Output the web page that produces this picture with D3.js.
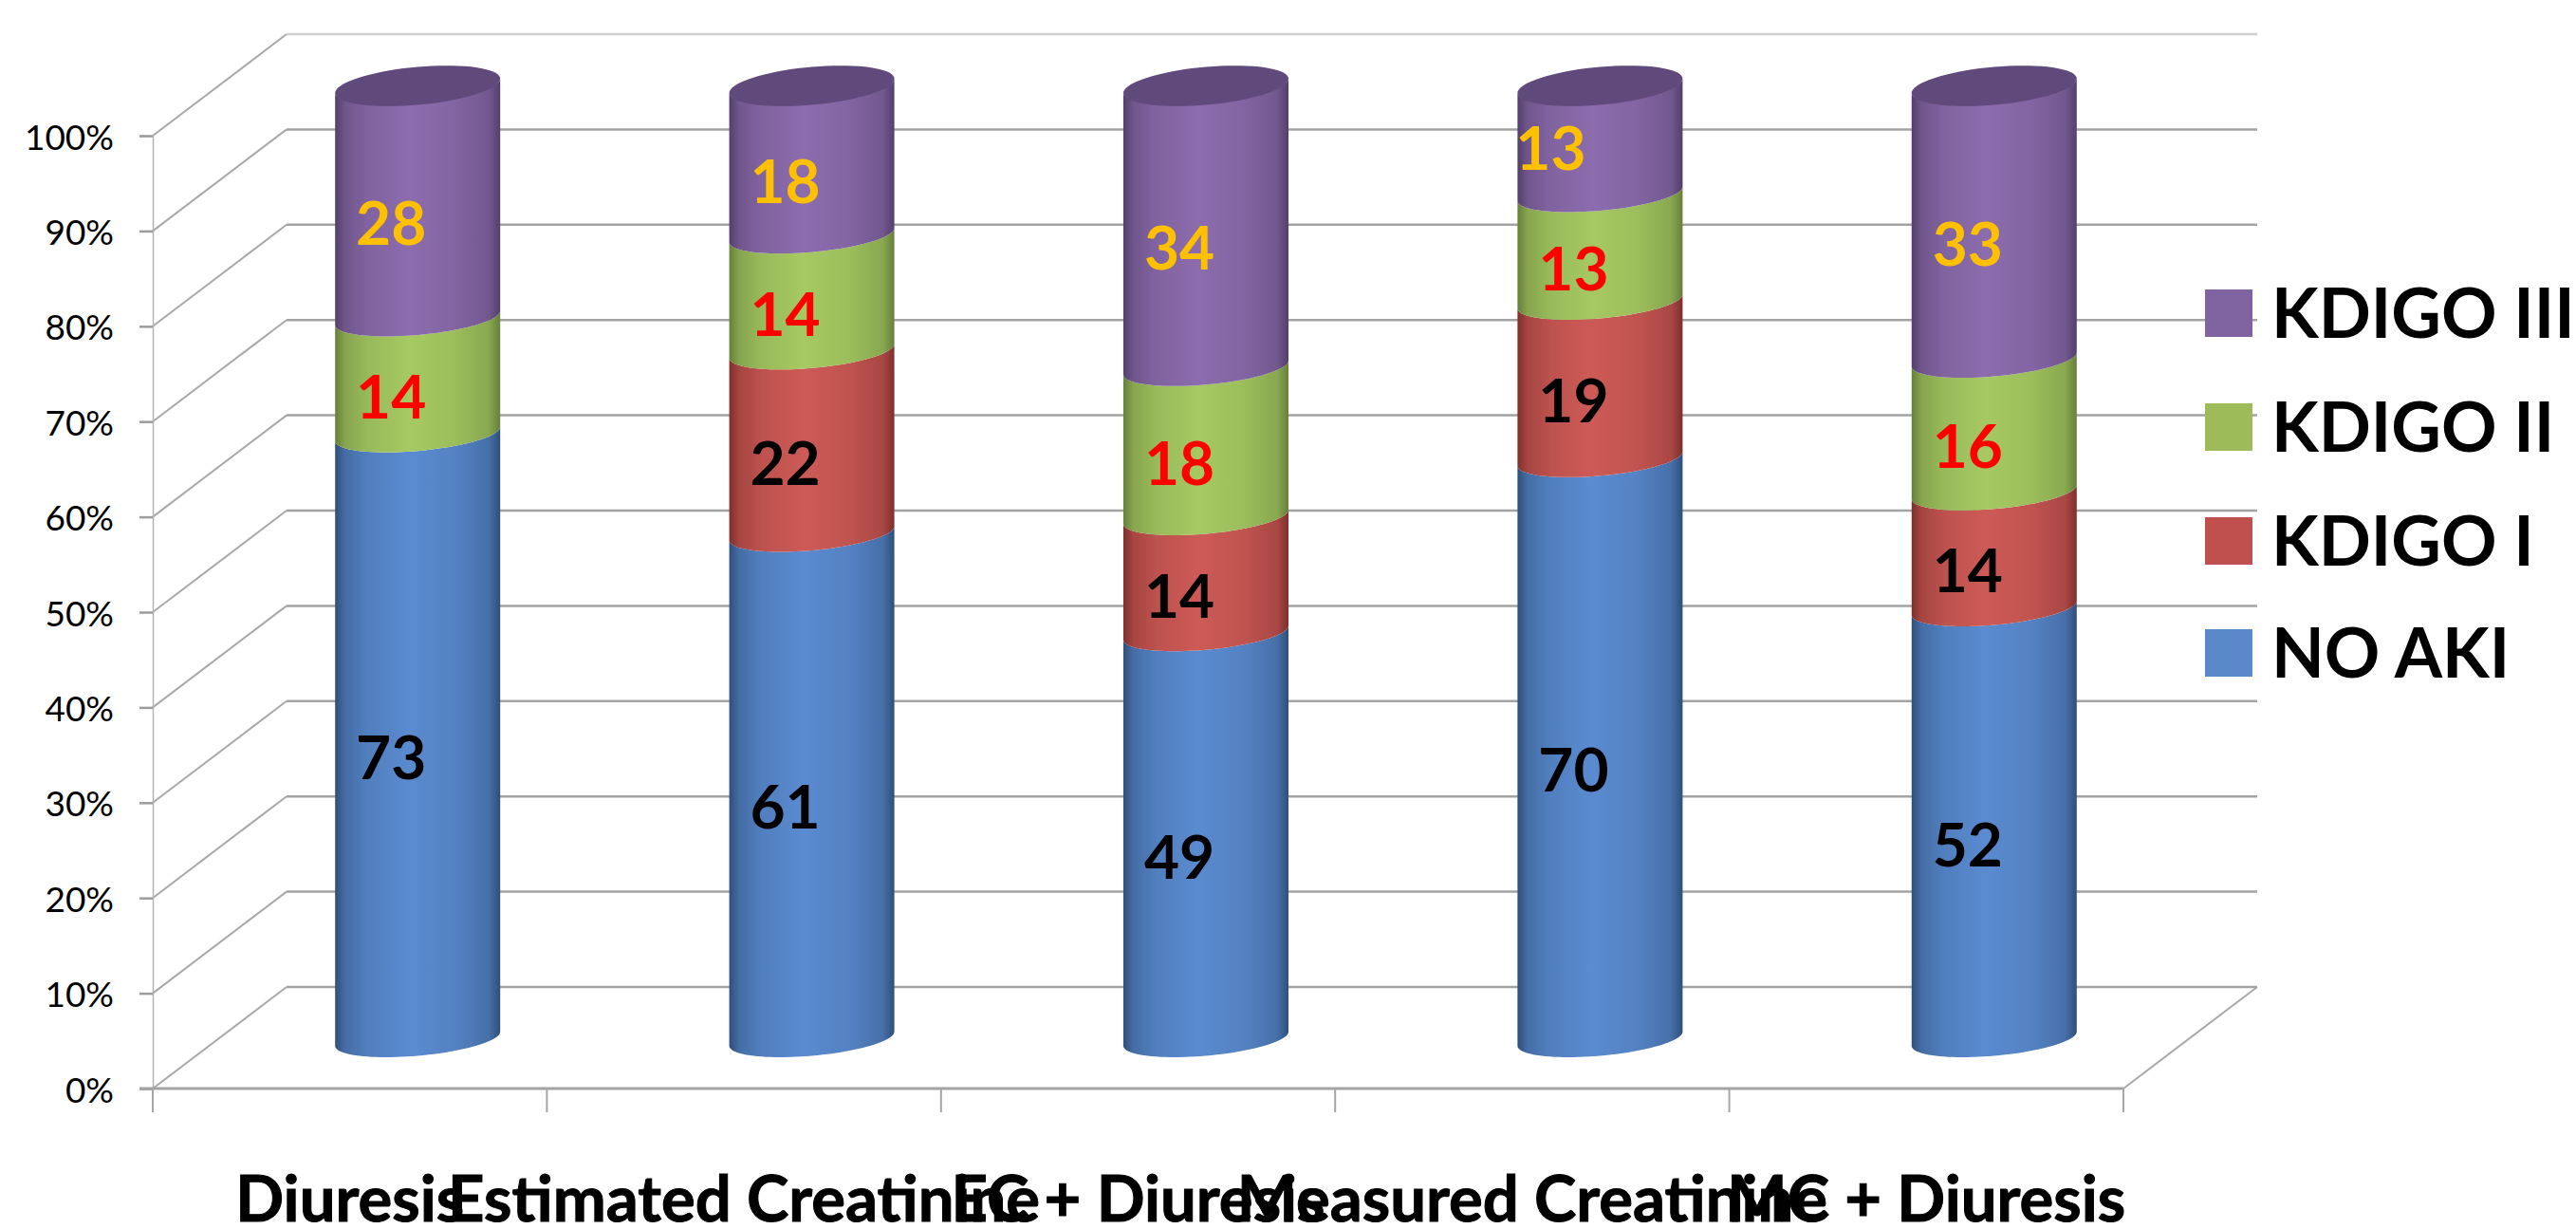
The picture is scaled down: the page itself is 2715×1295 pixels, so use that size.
<!DOCTYPE html>
<html>
<head>
<meta charset="utf-8">
<script src="https://d3js.org/d3.v7.min.js"></script>
<style>
html,body{margin:0;padding:0;background:#fff}
svg{display:block}
text{font-family:Lato,"Open Sans",sans-serif}
</style>
</head>
<body>
<svg id="chart" width="2715" height="1295"></svg>
<script>
// AKI staging by criterion, drawn as 100% stacked 3D cylinders.
const categories = ["Diuresis", "Estimated Creatinine", "EC + Diuresis", "Measured Creatinine", "MC + Diuresis"];
const seriesNames = ["NO AKI", "KDIGO I", "KDIGO II", "KDIGO III"];
const noAki   = [73, 61, 49, 70, 52];
const kdigo1  = [0, 22, 14, 19, 14];
const kdigo2  = [14, 14, 18, 13, 16];
const kdigo3  = [28, 18, 34, 13, 33];
const percentTicks = d3.range(0, 1.01, 0.1);

const palette = {
  "NO AKI":    {swatch: "#5a88c8", mid: "#5a8bd0", edge: "#2f4f7a", label: "#000000"},
  "KDIGO I":   {swatch: "#bf504d", mid: "#cd5a56", edge: "#7e302d", label: "#000000"},
  "KDIGO II":  {swatch: "#9dbb59", mid: "#a6c962", edge: "#66803a", label: "#ff0000"},
  "KDIGO III": {swatch: "#8064a2", mid: "#8c6cad", edge: "#533f6b", label: "#ffc000", cap: "#604a7b"}
};

const rows = categories.map((c, i) => ({
  category: c,
  "NO AKI": noAki[i], "KDIGO I": kdigo1[i], "KDIGO II": kdigo2[i], "KDIGO III": kdigo3[i]
}));
const layers = d3.stack().keys(seriesNames).offset(d3.stackOffsetExpand)(rows);

// Projection of the chart box: the back wall sits up and to the right of the front plane.
const depth = {dx: 141, dy: -107};
const x = d3.scaleBand().domain(categories).range([161, 2238]);
const y = d3.scaleLinear().domain([0, 1]).range([1147, 143]);

// Cylinder cross-section
const radiusX = 87, radiusY = 18, tilt = 7.5, capRadiusY = 20;
const columnX = c => x(c) + x.bandwidth() / 2 + depth.dx / 2 + 1;
const columnY = v => y(v) + depth.dy / 2 + 1;

const svg = d3.select("#chart");
const defs = svg.append("defs");
seriesNames.forEach((name, i) => {
  const g = defs.append("linearGradient").attr("id", "shade" + i);
  const p = palette[name];
  const mix = d3.interpolateRgb(p.edge, p.mid);
  [[0, 0], [0.06, 0.5], [0.2, 0.8], [0.45, 1], [0.72, 0.85], [0.93, 0.55], [1, 0]]
    .forEach(([o, k]) => g.append("stop").attr("offset", o).attr("stop-color", mix(k)));
});

// Walls and floor
const grid = svg.append("g").attr("fill", "none");
percentTicks.forEach(t => {
  grid.append("line")
    .attr("x1", x.range()[0]).attr("y1", y(t))
    .attr("x2", x.range()[0] + depth.dx).attr("y2", y(t) + depth.dy)
    .attr("stroke", "#a8a8a8").attr("stroke-width", 2);
  grid.append("line")
    .attr("x1", x.range()[0] + depth.dx).attr("y1", y(t) + depth.dy)
    .attr("x2", x.range()[1] + depth.dx).attr("y2", y(t) + depth.dy)
    .attr("stroke", t === 1 ? "#cfcfcf" : "#a3a3a3").attr("stroke-width", 2.5);
});
grid.append("line")
  .attr("x1", x.range()[1]).attr("y1", y(0))
  .attr("x2", x.range()[1] + depth.dx).attr("y2", y(0) + depth.dy)
  .attr("stroke", "#a8a8a8").attr("stroke-width", 2);

// Value axis
const yAxis = d3.axisLeft(y).tickValues(percentTicks).tickFormat(d3.format(".0%")).tickSize(14).tickPadding(27);
const yG = svg.append("g").attr("transform", `translate(${x.range()[0]},0)`).call(yAxis);
yG.select(".domain").attr("stroke", "#b4b4b4").attr("stroke-width", 1.5);
yG.selectAll(".tick line").attr("stroke", "#9c9c9c").attr("stroke-width", 2.5);
yG.selectAll(".tick text").attr("font-size", 37).attr("fill", "#000").attr("dy", "0.38em")
  .style("font-family", "Lato");

// Category axis: ticks fall between the bands, labels on the band centres
const xBase = svg.append("g").attr("transform", `translate(0,${y(0)})`);
xBase.append("line").attr("x1", x.range()[0] - 14).attr("x2", x.range()[1])
  .attr("stroke", "#a3a3a3").attr("stroke-width", 3);
const edges = categories.map(c => x(c)).concat(x.range()[1]);
xBase.selectAll("line.edge").data(edges).join("line").attr("class", "edge")
  .attr("x1", d => d).attr("x2", d => d).attr("y1", 0).attr("y2", 25)
  .attr("stroke", "#a6a6a6").attr("stroke-width", 2);
xBase.selectAll("text").data(categories).join("text")
  .attr("x", c => x(c) + x.bandwidth() / 2)
  .attr("y", 140)
  .attr("text-anchor", "middle")
  .attr("font-size", 67).attr("font-weight", 700).attr("fill", "#000")
  .attr("stroke", "#000").attr("stroke-width", 1)
  .text(c => c);

// Cylinders
const arcSteps = d3.range(0, 49).map(i => i / 48);
const frontArc = (cx, cy) => arcSteps.map(u => {
  const t = Math.PI * (1 + u);
  return [cx + radiusX * Math.cos(t), cy - tilt * Math.cos(t) - radiusY * Math.sin(t)];
});
const outline = d3.line();
const columns = svg.append("g");

layers.forEach((layer, li) => {
  columns.append("g").selectAll("path").data(layer.filter(d => d[1] > d[0])).join("path")
    .attr("d", d => {
      const cx = columnX(d.data.category);
      const upper = frontArc(cx, columnY(d[1]));
      const lower = frontArc(cx, columnY(d[0])).reverse();
      return outline(upper.concat(lower)) + "Z";
    })
    .attr("fill", `url(#shade${li})`);
});

// Cap on top of each column
const capSteps = d3.range(0, 73).map(i => i / 72);
columns.append("g").selectAll("path").data(layers[layers.length - 1]).join("path")
  .attr("d", d => {
    const cx = columnX(d.data.category), cy = columnY(d[1]);
    return outline(capSteps.map(u => {
      const t = 2 * Math.PI * u;
      return [cx + radiusX * Math.cos(t), cy - tilt * Math.cos(t) - capRadiusY * Math.sin(t)];
    })) + "Z";
  })
  .attr("fill", palette["KDIGO III"].cap);

// Value labels sit low and left on the front of each cylinder
const labelShift = {x: -28, y: 22};
const labels = svg.append("g").attr("text-anchor", "middle").attr("font-size", 64).attr("font-weight", 700);
layers.forEach(layer => {
  layer.forEach(d => {
    const value = d.data[layer.key];
    if (!value) return;
    // the small top segment of Measured Creatinine has its label pulled aside to fit
    const pulled = d.data.category === "Measured Creatinine" && layer.key === "KDIGO III";
    labels.append("text")
      .attr("x", columnX(d.data.category) + labelShift.x + (pulled ? -24 : 0))
      .attr("y", columnY((d[0] + d[1]) / 2) + labelShift.y + (pulled ? -13 : 0))
      .attr("dy", "0.36em")
      .attr("fill", palette[layer.key].label)
      .text(value);
  });
});

// Legend, highest stage first
const legendTop = [305, 425, 545, 663];
const legend = svg.append("g");
seriesNames.slice().reverse().forEach((name, i) => {
  legend.append("rect").attr("x", 2324).attr("y", legendTop[i]).attr("width", 50).attr("height", 50)
    .attr("fill", palette[name].swatch);
  legend.append("text").attr("x", 2394).attr("y", legendTop[i] + 51)
    .attr("font-size", 72.5).attr("font-weight", 700).attr("fill", "#000").text(name);
});
</script>
</body>
</html>
